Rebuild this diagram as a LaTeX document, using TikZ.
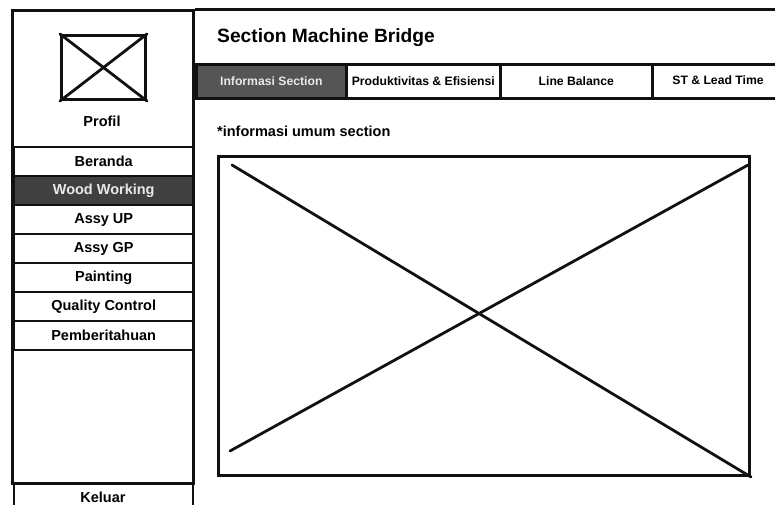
\documentclass[tikz,border=0pt]{standalone}
\usepackage{fontspec}
\setmainfont{Liberation Sans}
\definecolor{tabgray}{HTML}{555555}
\definecolor{selgray}{HTML}{404040}
\definecolor{seltext}{HTML}{E8E8E8}
\definecolor{ink}{HTML}{111111}
\begin{document}
\begin{tikzpicture}[x=1pt,y=-1pt,line join=miter,
  frame/.style={draw=ink,line width=3pt},
  cross/.style={draw=ink,line width=2.8pt,line cap=round},
  menuitem/.style={draw=ink,line width=2.4pt,fill=white,minimum width=179pt,
    minimum height=29pt,inner sep=0pt,anchor=north west,
    font=\bfseries\fontsize{14.5}{17}\selectfont},
  menusel/.style={menuitem,fill=selgray,text=seltext},
  tabitem/.style={draw=ink,line width=2.6pt,fill=white,minimum height=34pt,
    inner sep=0pt,anchor=north west,font=\bfseries\fontsize{12.2}{14}\selectfont},
  tabsel/.style={tabitem,fill=tabgray,text=seltext},
  label/.style={inner sep=0pt,font=\bfseries\fontsize{14.5}{17}\selectfont}
]
\useasboundingbox (0,0) rectangle (775,504);

% sidebar frame and header line
\node[frame,minimum width=181pt,minimum height=473pt,inner sep=0pt,anchor=north west] (sidebar) at (11,9) {};
\coordinate (topend) at (780,9);
\draw[frame] (sidebar.north east) -- (topend);

% profile picture placeholder
\node[frame,minimum width=84pt,minimum height=64pt,inner sep=0pt,anchor=north west] (avatar) at (60,34) {};
\draw[cross] (avatar.north west) -- (avatar.south east);
\draw[cross] (avatar.south west) -- (avatar.north east);
\node[label] (profil) at (102,121) {Profil};

% menu entries
\node[menuitem] (beranda) at (13,146) {Beranda};
\node[menusel]  (wood)    at (13,175) {Wood Working};
\node[menuitem] (assyup)  at (13,204) {Assy UP};
\node[menuitem] (assygp)  at (13,233) {Assy GP};
\node[menuitem] (paint)   at (13,262) {Painting};
\node[menuitem] (qc)      at (13,291) {Quality Control};
\node[menuitem] (notif)   at (13,320) {Pemberitahuan};

% logout button
\node[menuitem,minimum height=40pt] (keluar) at (13,483) {};
\node[label] (keluartext) at (103,497) {Keluar};

% page title
\node[inner sep=0pt,anchor=west,font=\bfseries\fontsize{19.2}{22}\selectfont] (title) at (217,38) {Section Machine Bridge};

% tabs
\node[tabsel,minimum width=150pt]  (tab1) at (195,63) {Informasi Section};
\node[tabitem,minimum width=154pt] (tab2) at (345,63) {Produktivitas \& Efisiensi};
\node[tabitem,minimum width=152pt] (tab3) at (499,63) {Line Balance};
\node[tabitem,minimum width=134pt] (tab4) at (651,63) {};
\node[inner sep=0pt,font=\bfseries\fontsize{12.2}{14}\selectfont] (tab4text) at (718,80) {ST \& Lead Time};

% section info
\node[label,anchor=west] (info) at (217,131) {*informasi umum section};

% content placeholder
\node[frame,minimum width=531pt,minimum height=319pt,inner sep=0pt,anchor=north west] (content) at (217,155) {};
\coordinate (c1) at (232,165);
\coordinate (c2) at (230,451);
\coordinate (c3) at (748,165);
\draw[cross] (c1) -- (content.south east);
\draw[cross] (c2) -- (c3);
\end{tikzpicture}
\end{document}
